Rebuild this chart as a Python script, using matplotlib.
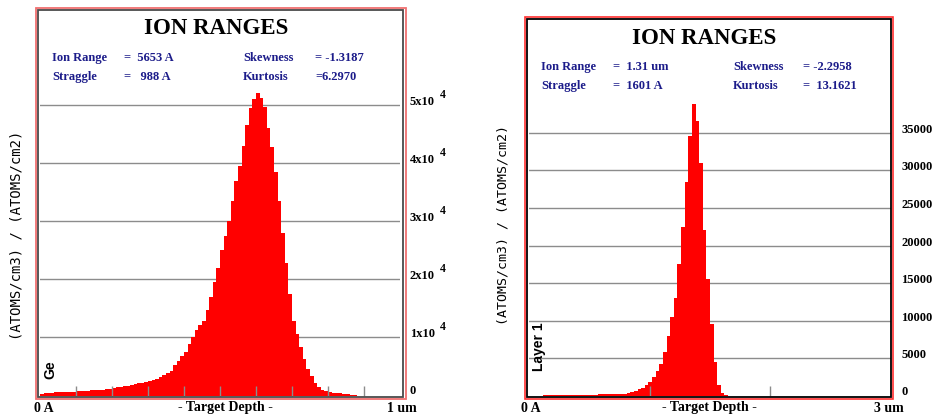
import numpy as np
import matplotlib.pyplot as plt
from matplotlib.patches import Rectangle
from matplotlib.transforms import offset_copy

W, H = 932, 416

# left panel: Ge, 100 bins of 100 A from 0 to 1 um
ge_depth_max = 10000  # A
ge_counts = [
    300, 450, 500, 500, 520, 550, 550, 560, 580, 600,
    700, 750, 800, 850, 900, 950, 1000, 1000, 1050, 1100,
    1300, 1400, 1500, 1600, 1700, 1800, 1950, 2100, 2200, 2300,
    2500, 2700, 2900, 3200, 3600, 3800, 4300, 5200, 6000, 6800,
    7500, 8800, 10000, 11200, 12200, 12900, 14800, 17000, 19500, 22000,
    25000, 27500, 30000, 33500, 37000, 39500, 43000, 46500, 49500, 51000,
    52000, 51200, 49700, 46000, 42800, 38500, 33500, 28000, 22800, 17500,
    12800, 10500, 8400, 6200, 4500, 3300, 2200, 1400, 1000, 700,
    600, 500, 450, 350, 250, 200, 100, 50, 0, 0,
    0, 0, 0, 0, 0, 0, 0, 0, 0, 0,
]
ge_xticks = [1000, 2000, 3000, 4000, 5000, 6000, 7000, 8000, 9000]
ge_yticks = [10000, 20000, 30000, 40000, 50000]
ge_ylabels = ["1x10", "2x10", "3x10", "4x10", "5x10"]
ge_stats = [["Ion Range", "=  5653 A", "Skewness", "= -1.3187"],
            ["Straggle", "=   988 A", "Kurtosis", "=6.2970"]]

# right panel: Layer 1, 100 bins of 0.03 um from 0 to 3 um
l1_depth_max = 3.0  # um
l1_counts = [
    0, 0, 0, 0, 80, 80, 80, 80, 80, 80,
    80, 80, 80, 80, 80, 80, 80, 80, 80, 200,
    200, 200, 200, 300, 300, 300, 300, 450, 500, 700,
    900, 1100, 1400, 1900, 2500, 3300, 4200, 5800, 8000, 10500,
    13000, 17500, 22500, 28500, 34500, 38800, 36500, 31000, 22000, 15500,
    9500, 4500, 1500, 400, 100, 0, 0, 0, 0, 0,
] + [0] * 40
l1_xticks = [1, 2]
l1_yticks = [5000, 10000, 15000, 20000, 25000, 30000, 35000]
l1_ylabels = ["5000", "10000", "15000", "20000", "25000", "30000", "35000"]
l1_stats = [["Ion Range", "=  1.31 um", "Skewness", "= -2.2958"],
            ["Straggle", "=  1601 A", "Kurtosis", "=  13.1621"]]

SERIF = "Liberation Serif"
NAVY = "#1c1c8a"
GRID = "#8c8c8c"

fig = plt.figure(figsize=(W / 100, H / 100), dpi=100)


def ftext(x, y, s, **kw):
    # place text with pixel coords measured from the top-left corner
    fig.text(x / W, 1 - y / H, s, **kw)


def frame(x0, y0, x1, y1, color, lw):
    fig.patches.append(Rectangle((x0 / W, 1 - y1 / H), (x1 - x0) / W, (y1 - y0) / H,
                                 transform=fig.transFigure, fill=False,
                                 ec=color, lw=lw))


def panel(box, ymax, depth_max, counts, xticks, yticks, ylabels, sup):
    x0, y0, x1, y1 = box
    ax = fig.add_axes([x0 / W, 1 - y1 / H, (x1 - x0) / W, (y1 - y0) / H])
    edges = np.linspace(0, depth_max, len(counts) + 1)
    # red fill hides the grid, but the small depth ticks stay on top
    ax.stairs(counts, edges, fill=True, color="#ff0000", lw=0, zorder=2)
    for v in yticks:
        ax.axhline(v, color=GRID, lw=1, zorder=1)
    ax.set_axisbelow(False)
    ax.set_xlim(0, depth_max)
    ax.set_ylim(0, ymax)
    for s in ax.spines.values():
        s.set_visible(False)
    ax.set_xticks(xticks)
    ax.set_yticks([])
    ax.tick_params(axis="x", direction="in", length=7, width=1, color=GRID,
                   labelbottom=False)
    lab_tr = offset_copy(ax.get_yaxis_transform(), fig, x=10, y=3, units="dots")
    for v, lab in zip(yticks, ylabels):
        ax.text(1.0, v, lab, transform=lab_tr, ha="left", va="center",
                family=SERIF, weight="bold", fontsize=9)
        if sup:
            sup_tr = offset_copy(ax.get_yaxis_transform(), fig, x=40, y=10,
                                 units="dots")
            ax.text(1.0, v, "4", transform=sup_tr, ha="left", va="center",
                    family=SERIF, weight="bold", fontsize=8.5)
    zero_tr = offset_copy(ax.get_yaxis_transform(), fig, x=10, y=4, units="dots")
    ax.text(1.0, 0, "0", transform=zero_tr, ha="left", va="center",
            family=SERIF, weight="bold", fontsize=9)
    return ax


def stats(rows, xs, ys):
    for row, y in zip(rows, ys):
        for s, x in zip(row, xs):
            ftext(x, y, s, ha="left", va="center", family=SERIF,
                  weight="bold", fontsize=9, color=NAVY)


# ---- left panel ----
frame(35.5, 8, 406, 399, "#f07070", 1.3)
frame(38, 10, 403, 397, "#4a4a4a", 1.3)
panel((40, 10, 400, 395.5), 66350, ge_depth_max, ge_counts,
      ge_xticks, ge_yticks, ge_ylabels, True)
ftext(216, 29, "ION RANGES", ha="center", va="center", family=SERIF,
      weight="bold", fontsize=16.5)
stats(ge_stats, [52, 124, 243, 315], [58, 77])
ftext(17, 235, "(ATOMS/cm3) / (ATOMS/cm2)", rotation=90, ha="center",
      va="center", family="DejaVu Sans Mono", fontsize=10)
ftext(50, 370, "Ge", rotation=90, ha="center", va="center",
      family="Liberation Sans", weight="bold", fontsize=10)
ftext(34, 408, "0 A", ha="left", va="center", family=SERIF, weight="bold", fontsize=10)
ftext(225, 408, "- Target Depth -", ha="center", va="center", family=SERIF,
      weight="bold", fontsize=10)
ftext(387, 408, "1 um", ha="left", va="center", family=SERIF, weight="bold", fontsize=10)

# ---- right panel ----
frame(525, 17, 893, 399, "#ff3030", 1.2)
frame(527, 19, 891, 397, "#000000", 1.3)
panel((529, 19, 891, 395.9), 50120, l1_depth_max, l1_counts,
      l1_xticks, l1_yticks, l1_ylabels, False)
ftext(704, 38, "ION RANGES", ha="center", va="center", family=SERIF,
      weight="bold", fontsize=16.5)
stats(l1_stats, [541, 613, 733, 803], [67, 86])
ftext(503, 225, "(ATOMS/cm3) / (ATOMS/cm2)", rotation=90, ha="center",
      va="center", family="DejaVu Sans Mono", fontsize=9.5)
ftext(539, 347, "Layer 1", rotation=90, ha="center", va="center",
      family="Liberation Sans", weight="bold", fontsize=10)
ftext(521, 408, "0 A", ha="left", va="center", family=SERIF, weight="bold", fontsize=10)
ftext(709, 408, "- Target Depth -", ha="center", va="center", family=SERIF,
      weight="bold", fontsize=10)
ftext(874, 408, "3 um", ha="left", va="center", family=SERIF, weight="bold", fontsize=10)

fig.savefig("out.png", dpi=100)
